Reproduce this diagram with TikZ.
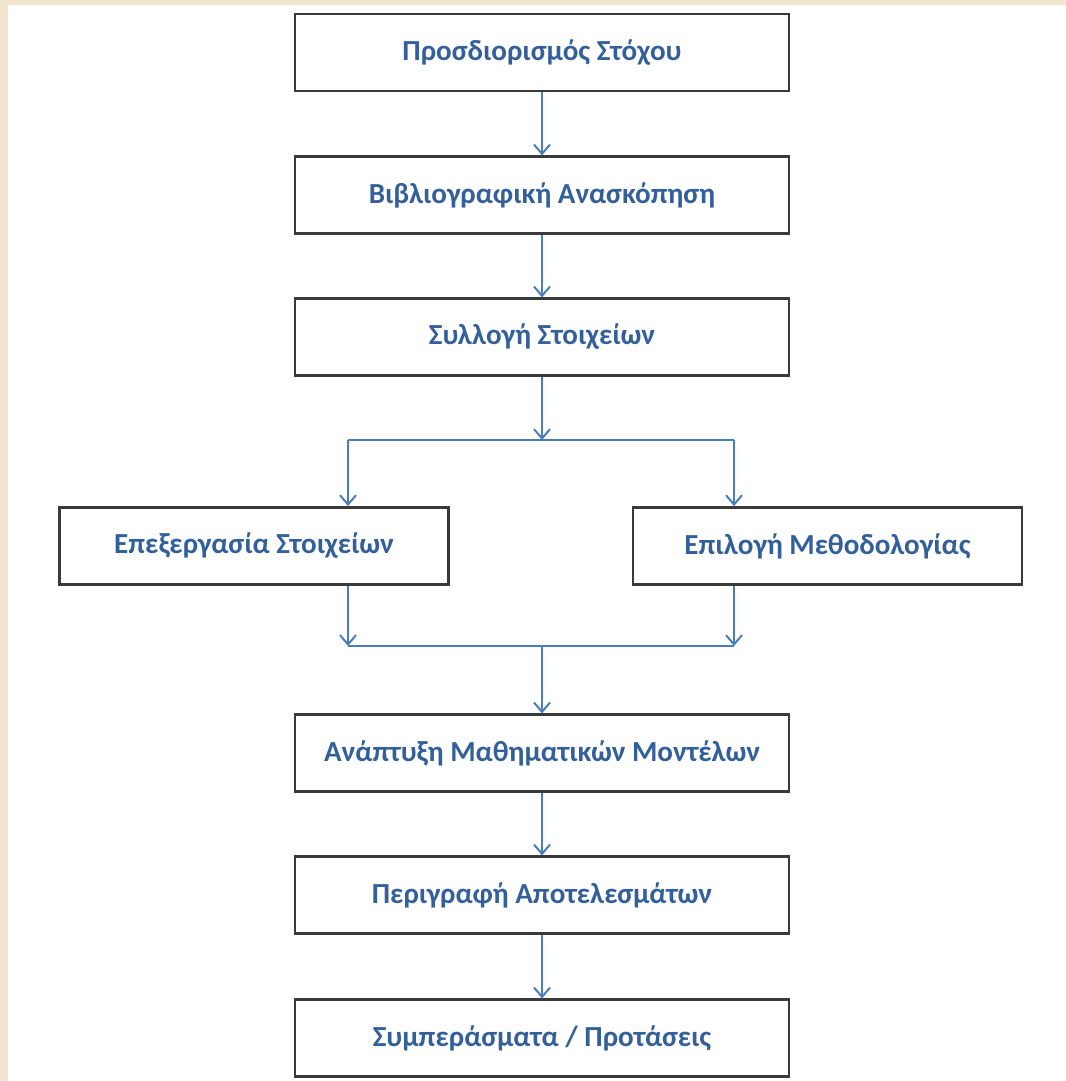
\documentclass[tikz,border=0pt]{standalone}
\usepackage{fontspec}
\setmainfont{Carlito}
\usetikzlibrary{arrows.meta,calc}
\definecolor{beige}{HTML}{F3E6CF}
\definecolor{txtblue}{HTML}{33609A}
\definecolor{arrblue}{HTML}{4A7EBB}
\definecolor{boxline}{HTML}{3A3A3A}
\begin{document}
\begin{tikzpicture}[x=0.75pt,y=-0.75pt,
  stepbox/.style={draw=boxline,line width=1.9pt,fill=white,inner sep=0pt,
    minimum width=370.5pt,minimum height=57.5pt,
    font=\bfseries\fontsize{21.8pt}{25pt}\selectfont,text=txtblue},
  sidebox/.style={stepbox,minimum width=291.5pt,minimum height=58pt},
  arr/.style={draw=arrblue,line width=1.5pt,-{Straight Barb[length=7pt,width=12pt,line width=1.5pt]}},
  ln/.style={draw=arrblue,line width=1.5pt}]
\useasboundingbox (0,0) rectangle (1066,1081);
\fill[beige] (0,0) rectangle (1066,1081);
\fill[white] (8,5) rectangle (1066,1081);
\node[stepbox] (b1) at (542,52.5) {Προσδιορισμός Στόχου};
\node[stepbox] (b2) at (542,195) {Βιβλιογραφική Ανασκόπηση};
\node[stepbox] (b3) at (542,337) {Συλλογή Στοιχείων};
\node[sidebox] (L) at (254,546) {Επεξεργασία Στοιχείων};
\node[sidebox] (R) at (827.5,546) {Επιλογή Μεθοδολογίας};
\node[stepbox] (b7) at (542,753) {Ανάπτυξη Μαθηματικών Μοντέλων};
\node[stepbox] (b8) at (542,895) {Περιγραφή Αποτελεσμάτων};
\node[stepbox] (b9) at (542,1038) {Συμπεράσματα / Προτάσεις};
\coordinate (split) at (542,440);
\coordinate (splitL) at (348,440);
\coordinate (splitR) at (734,440);
\coordinate (merge) at (542,646);
\coordinate (mergeL) at (348,646);
\coordinate (mergeR) at (734,646);
\draw[arr] (b1) -- (b2);
\draw[arr] (b2) -- (b3);
\draw[arr] (b3) -- (split);
\draw[ln] (splitL) -- (splitR);
\draw[arr] (splitL) -- (splitL |- L.north);
\draw[arr] (splitR) -- (splitR |- R.north);
\draw[arr] (mergeL |- L.south) -- (mergeL);
\draw[arr] (mergeR |- R.south) -- (mergeR);
\draw[ln] (mergeL) -- (mergeR);
\draw[arr] (merge) -- (b7);
\draw[arr] (b7) -- (b8);
\draw[arr] (b8) -- (b9);
\end{tikzpicture}
\end{document}
